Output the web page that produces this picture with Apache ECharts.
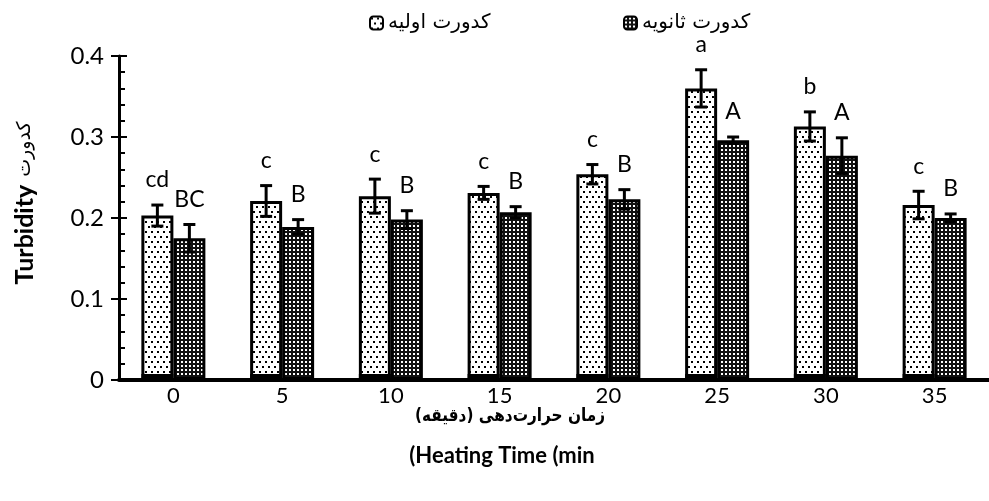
<!DOCTYPE html>
<html>
<head>
<meta charset="utf-8">
<script src="https://cdn.jsdelivr.net/npm/echarts@6/dist/echarts.min.js"></script>
<style>
html,body{margin:0;padding:0;background:#fff;}
#c{width:989px;height:501px;}
</style>
</head>
<body>
<div id="c"></div>
<script>
// ---- data ----
const categories = ['0', '5', '10', '15', '20', '25', '30', '35'];
const primaryName = 'كدورت اوليه';
const secondaryName = 'كدورت ثانويه';
const primaryValues = [0.203, 0.221, 0.227, 0.231, 0.254, 0.360, 0.313, 0.216];
const primaryErrors = [0.013, 0.019, 0.021, 0.008, 0.012, 0.023, 0.018, 0.017];
const secondaryValues = [0.175, 0.189, 0.198, 0.207, 0.223, 0.296, 0.277, 0.200];
const secondaryErrors = [0.017, 0.009, 0.011, 0.007, 0.012, 0.004, 0.022, 0.005];
const primaryLetters = ['cd', 'c', 'c', 'c', 'c', 'a', 'b', 'c'];
const secondaryLetters = ['BC', 'B', 'B', 'B', 'B', 'A', 'A', 'B'];
const yTicks = [0, 0.1, 0.2, 0.3, 0.4];
const yAxisTitle = 'Turbidity';
const yAxisTitleFa = 'كدورت';
const xAxisTitleFa = 'زمان حرارت‌دهی (دقیقه)';
const xAxisTitleEn = '(Heating Time (min';

// ---- patterns ----
function lightPattern() {
  const c = document.createElement('canvas');
  c.width = 6; c.height = 10;
  const g = c.getContext('2d');
  g.fillStyle = '#fff'; g.fillRect(0, 0, 6, 10);
  g.fillStyle = '#000';
  g.fillRect(1, 1, 2, 2);
  g.fillRect(4, 6, 2, 2);
  return c;
}
function darkPattern() {
  const c = document.createElement('canvas');
  c.width = 4; c.height = 4;
  const g = c.getContext('2d');
  g.fillStyle = '#111'; g.fillRect(0, 0, 4, 4);
  g.fillStyle = '#fff';
  g.fillRect(1, 1, 2, 2);
  return c;
}
const lightFill = { image: lightPattern(), repeat: 'repeat' };
const darkFill = { image: darkPattern(), repeat: 'repeat' };

const BAR_W = 32;
const labelFont = 'Lato, "Open Sans", sans-serif';
const faFont = '"DejaVu Sans", sans-serif';

function errorSeries(values, errors, letters, offset, withBase) {
  return {
    type: 'custom',
    z: 10,
    silent: true,
    data: values.map((v, i) => [i, v, errors[i]]),
    renderItem: function (params, api) {
      const i = api.value(0), v = api.value(1), e = api.value(2);
      const pTop = api.coord([i, v + e]);
      const pBot = api.coord([i, v - e]);
      const p0 = api.coord([i, 0]);
      const x = pTop[0] + offset;
      const cap = 6;
      const st = { stroke: '#000', lineWidth: 3 };
      const children = [
        { type: 'line', shape: { x1: x, y1: pTop[1], x2: x, y2: pBot[1] }, style: st },
        { type: 'line', shape: { x1: x - cap, y1: pTop[1], x2: x + cap, y2: pTop[1] }, style: st },
        { type: 'line', shape: { x1: x - cap, y1: pBot[1], x2: x + cap, y2: pBot[1] }, style: st },
        { type: 'text', style: { text: letters[params.dataIndex], x: x, y: pTop[1] - 25,
            textAlign: 'center', textVerticalAlign: 'middle',
            font: '23px ' + labelFont, fill: '#000' } }
      ];
      if (withBase) {
        children.push({ type: 'rect', shape: { x: x - BAR_W / 2, y: p0[1] - 6, width: BAR_W, height: 6 },
          style: { fill: '#000' } });
      }
      return { type: 'group', children: children };
    }
  };
}

const chart = echarts.init(document.getElementById('c'), null, { renderer: 'canvas' });
const option = {
  animation: false,
  backgroundColor: '#fff',
  grid: { left: 119, top: 56, bottom: 121, right: -11, containLabel: false },
  legend: [
    { data: [primaryName], left: 369, top: 13, padding: 0, itemWidth: 13, itemHeight: 13, itemGap: 4,
      textStyle: { fontFamily: faFont, fontSize: 20, color: '#000', padding: [0, 0, 0, 0] } },
    { data: [secondaryName], left: 623, top: 13, padding: 0, itemWidth: 13, itemHeight: 13,
      textStyle: { fontFamily: faFont, fontSize: 20, color: '#000', padding: [0, 0, 0, 0] } }
  ],
  xAxis: {
    type: 'category',
    data: categories,
    axisLine: { lineStyle: { color: '#000', width: 4 } },
    axisTick: { show: false },
    axisLabel: { color: '#000', fontSize: 22, fontFamily: labelFont, margin: 5 },
    splitLine: { show: false }
  },
  yAxis: [
    {
      type: 'value', min: yTicks[0], max: yTicks[yTicks.length - 1], interval: 0.1,
      position: 'left',
      axisLine: { show: true, lineStyle: { color: '#000', width: 3 } },
      axisTick: { show: true, inside: false, length: 8, lineStyle: { color: '#000', width: 2 } },
      axisLabel: { color: '#000', fontSize: 24, fontFamily: labelFont, margin: 15,
        formatter: v => v === 0 ? '0' : v.toFixed(1) },
      splitLine: { show: false }
    },
    {
      type: 'value', min: yTicks[0], max: yTicks[yTicks.length - 1], interval: 0.1,
      position: 'left', offset: 0,
      axisLine: { show: false },
      axisTick: { show: true, inside: true, length: 8, lineStyle: { color: '#000', width: 2 } },
      minorTick: { show: true, splitNumber: 5, length: 6, lineStyle: { color: '#000', width: 2 } },
      axisLabel: { show: false },
      splitLine: { show: false }
    }
  ],
  graphic: [
    { type: 'text', x: 25, y: 203, rotation: Math.PI / 2,
      style: { text: '{b|' + yAxisTitle + '}{s|}{a|' + yAxisTitleFa + '}',
        textAlign: 'center', textVerticalAlign: 'middle',
        rich: {
          b: { fontFamily: labelFont, fontWeight: 'bold', fontSize: 25, fill: '#000' },
          s: { width: 8 },
          a: { fontFamily: faFont, fontSize: 19, fill: '#000' }
        } } },
    { type: 'text', x: 510, y: 416, scaleX: 0.85,
      style: { text: '\u202B' + xAxisTitleFa + '\u202C', textAlign: 'center', textVerticalAlign: 'middle',
        font: 'bold 18px ' + faFont, fill: '#000' } },
    { type: 'text', x: 502, y: 456,
      style: { text: xAxisTitleEn, textAlign: 'center', textVerticalAlign: 'middle',
        font: 'bold 22px ' + labelFont, fill: '#000' } }
  ],
  series: [
    { name: primaryName, type: 'bar', data: primaryValues, barWidth: BAR_W, barGap: '0%',
      itemStyle: { color: lightFill, borderColor: '#000', borderWidth: 3 } },
    { name: secondaryName, type: 'bar', data: secondaryValues, barWidth: BAR_W, barGap: '0%',
      itemStyle: { color: darkFill, borderColor: '#000', borderWidth: 3 } },
    errorSeries(primaryValues, primaryErrors, primaryLetters, -BAR_W / 2, true),
    errorSeries(secondaryValues, secondaryErrors, secondaryLetters, BAR_W / 2, false)
  ]
};
chart.setOption(option);
</script>
</body>
</html>
